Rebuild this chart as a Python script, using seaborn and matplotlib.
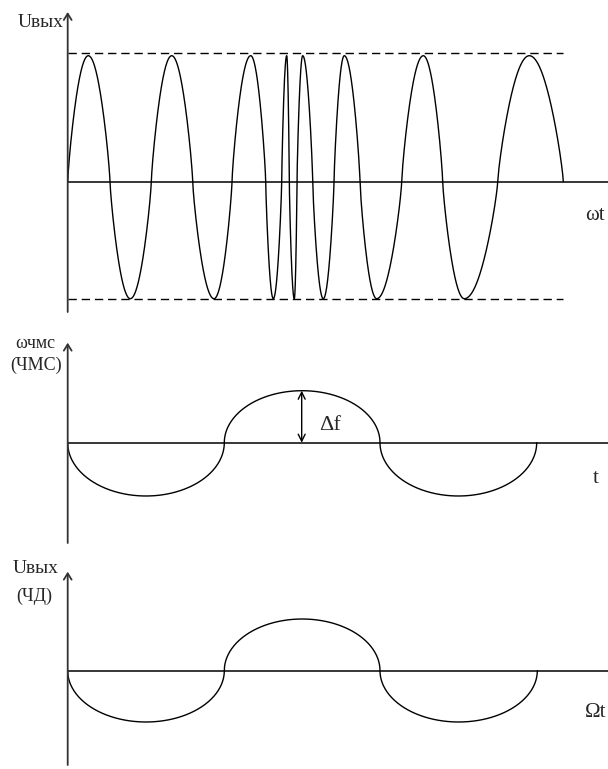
import numpy as np
import pandas as pd
import matplotlib
matplotlib.use("Agg")
import matplotlib.pyplot as plt
import seaborn as sns

sns.set_style("white")
plt.rcParams["font.family"] = ["Liberation Serif", "DejaVu Serif"]

W, H = 608, 769

# FM signal: zero crossings, peak positions and lobe amplitudes (omega*t units)
fm_crossings = [0.0, 42.3, 83.6, 125.0, 164.3, 198.0, 214.0, 221.6, 229.3,
                245.0, 266.3, 292.3, 334.0, 375.0, 430.0, 495.6]
fm_peaks = [20.6, 62.6, 104.0, 146.3, 183.0, 205.6, 219.0, 226.6, 235.0,
            255.6, 276.6, 309.0, 355.6, 396.6, 461.6]
fm_amp_pos, fm_amp_neg = 126.0, -117.0
fm_levels = [128.4, -117.3]
fm_level_end = 495.6

# Frequency deviation (ЧМС): lobe boundaries and heights
dev_crossings = [0.0, 156.6, 312.3, 469.0]
dev_heights = [-53.3, 52.0, -53.3]
delta_f_pos = 234.0

# Detector output (ЧД): lobe boundaries and heights
det_crossings = [0.0, 156.6, 312.3, 469.6]
det_heights = [-51.3, 51.7, -51.3]

LOBE_FULLNESS = 0.8  # <1 gives rounder, fuller lobes than a pure sine


def fm_curve(crossings, peaks):
    xs, ys = [], []
    for i, p in enumerate(peaks):
        a = fm_amp_pos if i % 2 == 0 else fm_amp_neg
        c0, c1 = crossings[i], crossings[i + 1]
        xr = np.linspace(c0, p, 80)
        xf = np.linspace(p, c1, 80)[1:]
        xs += list(xr) + list(xf)
        ys += list(a * np.sin(np.pi / 2 * (xr - c0) / (p - c0)) ** LOBE_FULLNESS)
        ys += list(a * np.sin(np.pi / 2 * (c1 - xf) / (c1 - p)) ** LOBE_FULLNESS)
    return pd.DataFrame({"x": xs, "y": ys})


def ellipse_curve(crossings, heights):
    xs, ys = [], []
    for i, h in enumerate(heights):
        c0, c1 = crossings[i], crossings[i + 1]
        m, r = (c0 + c1) / 2, (c1 - c0) / 2
        th = np.linspace(np.pi, 0, 200)
        xs += list(m + r * np.cos(th))
        ys += list(h * np.sin(th))
    return pd.DataFrame({"x": xs, "y": ys})


fig = plt.figure(figsize=(W / 100, H / 100), dpi=100)
x0_px = 67.7


def panel(top_px, bottom_px, zero_px):
    ax = fig.add_axes([x0_px / W, 1 - bottom_px / H, (W - x0_px) / W,
                       (bottom_px - top_px) / H])
    ax.set_xlim(0, W - x0_px)
    ax.set_ylim(-(bottom_px - zero_px), zero_px - top_px)
    ax.axis("off")
    # vertical axis with open arrow head
    ax.annotate("", xy=(0, zero_px - top_px), xytext=(0, -(bottom_px - zero_px)),
                arrowprops=dict(arrowstyle="->,head_length=0.45,head_width=0.28",
                                lw=1.3, color="#333333", shrinkA=0, shrinkB=0),
                annotation_clip=False)
    ax.plot([0, W - x0_px], [0, 0], color="black", lw=1.1, clip_on=False)
    return ax


def ftext(x, y, s, size=14, ha="left"):
    fig.text(x / W, 1 - y / H, s, fontsize=size, ha=ha, va="baseline")


# top: FM signal
ax1 = panel(12, 312, 181.7)
for lv in fm_levels:
    ax1.plot([0, fm_level_end], [lv, lv], color="black", lw=1.0,
             dashes=(6, 3.5), clip_on=False)
sns.lineplot(data=fm_curve(fm_crossings, fm_peaks), x="x", y="y", ax=ax1,
             sort=False, estimator=None, color="black", lw=1.0)
ax1.set_xlim(0, W - x0_px)

# middle: frequency deviation
ax2 = panel(342.7, 543, 442.7)
sns.lineplot(data=ellipse_curve(dev_crossings, dev_heights), x="x", y="y",
             ax=ax2, sort=False, estimator=None, color="black", lw=1.0)
ax2.annotate("", xy=(delta_f_pos, dev_heights[1]), xytext=(delta_f_pos, 0),
             arrowprops=dict(arrowstyle="<->,head_length=0.5,head_width=0.25",
                             lw=1.0, color="black", shrinkA=0, shrinkB=0))
ax2.set_xlim(0, W - x0_px)

# bottom: detector output
ax3 = panel(571.7, 765, 670.7)
sns.lineplot(data=ellipse_curve(det_crossings, det_heights), x="x", y="y",
             ax=ax3, sort=False, estimator=None, color="black", lw=1.0)
ax3.set_xlim(0, W - x0_px)

for ax in (ax1, ax2, ax3):
    for ln in ax.lines:
        ln.set_clip_on(False)

# labels
ftext(18, 27, "Uвых")
ftext(585, 220, "ωt", size=15)
ftext(15, 348, "ωчмс", size=13)
ftext(10, 370, "(ЧМС)", size=13)
ftext(319, 430, "Δf", size=16)
ftext(593, 483, "t", size=15)
ftext(13, 573, "Uвых")
ftext(16, 601, "(ЧД)", size=13)
ftext(585, 717, "Ωt", size=15)

fig.savefig("out.png", dpi=100)
